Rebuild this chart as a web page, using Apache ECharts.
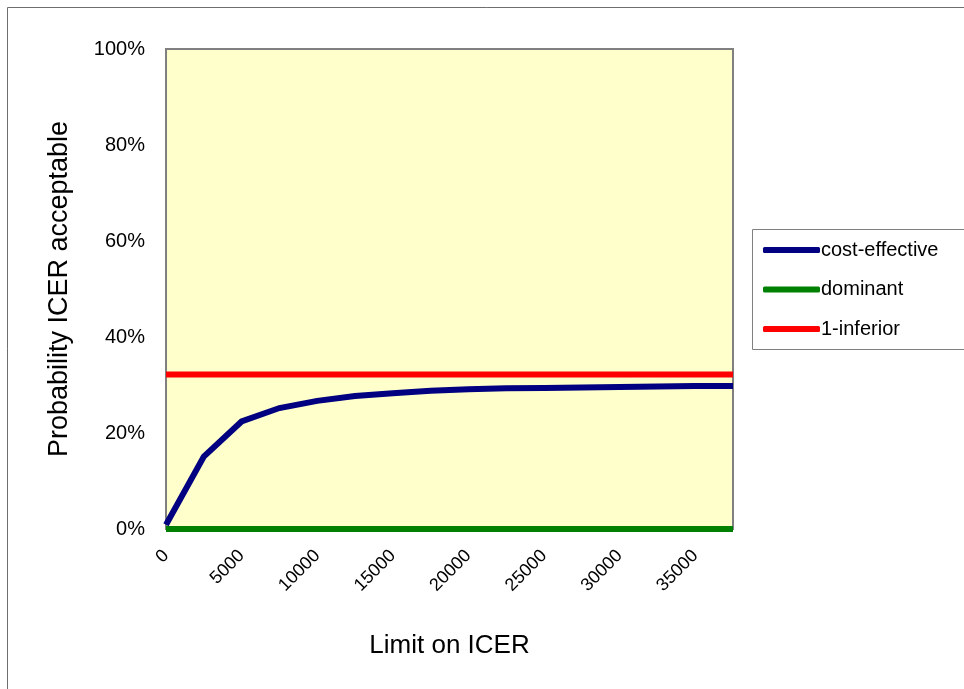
<!DOCTYPE html>
<html>
<head>
<meta charset="utf-8">
<script src="https://cdn.jsdelivr.net/npm/echarts@6/dist/echarts.min.js"></script>
<style>
html,body{margin:0;padding:0;background:#fff;}
#c{width:964px;height:689px;}
</style>
</head>
<body>
<div id="c"></div>
<script>
var categories = ['0','2500','5000','7500','10000','12500','15000','17500','20000','22500','25000','27500','30000','32500','35000','37500'];
var costEffective = [0.9, 15.1, 22.4, 25.2, 26.7, 27.7, 28.3, 28.8, 29.1, 29.3, 29.4, 29.5, 29.6, 29.7, 29.8, 29.8];
var dominant = [0,0,0,0,0,0,0,0,0,0,0,0,0,0,0,0];
var inferior = [32.2,32.2,32.2,32.2,32.2,32.2,32.2,32.2,32.2,32.2,32.2,32.2,32.2,32.2,32.2,32.2];
var seriesNames = ['cost-effective','dominant','1-inferior'];
var seriesColors = ['#000080','#008000','#FF0000'];

var chart = echarts.init(document.getElementById('c'), null, {renderer:'canvas'});
var font = 'Liberation Sans, Arial, sans-serif';
var dataSets = [costEffective, dominant, inferior];
chart.setOption({
  backgroundColor:'#ffffff',
  animation:false,
  graphic:[
    {type:'rect', shape:{x:7.5,y:7.5,width:1000,height:700}, style:{fill:'none',stroke:'#6e6e6e',lineWidth:1}, z:-10},
    {type:'rect', shape:{x:752.5,y:229.5,width:300,height:120}, style:{fill:'#fff',stroke:'#808080',lineWidth:1}, z:-5}
  ],
  grid:{left:166,top:49,right:231,bottom:160,show:true,backgroundColor:'#FFFFCC',borderColor:'#808080',borderWidth:2},
  legend:{
    orient:'vertical', left:758, top:235, itemGap:19.5,
    itemWidth:57, itemHeight:6,
    data:seriesNames.map(function(n,i){return {name:n, icon:'roundRect', itemStyle:{color:seriesColors[i]}};}),
    textStyle:{fontFamily:font,fontSize:20,color:'#000',padding:[0,0,0,-4]}
  },
  xAxis:{
    type:'category', data:categories, boundaryGap:false,
    name:'Limit on ICER', nameLocation:'middle', nameGap:104,
    nameTextStyle:{fontFamily:font,fontSize:26,color:'#000'},
    axisLine:{show:false}, axisTick:{show:false}, splitLine:{show:false},
    axisLabel:{interval:1, rotate:45, margin:24, fontFamily:font, fontSize:18, color:'#000'}
  },
  yAxis:{
    type:'value', min:0, max:100, interval:20,
    name:'Probability ICER acceptable', nameLocation:'middle', nameGap:93,
    nameTextStyle:{fontFamily:font,fontSize:27,color:'#000'},
    axisLine:{show:false}, axisTick:{show:false}, splitLine:{show:false},
    axisLabel:{margin:21, fontFamily:font, fontSize:20, color:'#000', formatter:'{value}%'}
  },
  series:dataSets.map(function(d,i){
    return {name:seriesNames[i], type:'line', data:d, showSymbol:false, symbol:'none', clip:false,
      lineStyle:{color:seriesColors[i], width:6, cap:'butt', join:'miter'}, itemStyle:{color:seriesColors[i]},
      z: i===0 ? 5 : 3};
  })
});
</script>
</body>
</html>
